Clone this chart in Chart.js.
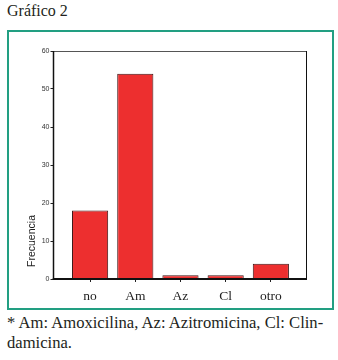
<!DOCTYPE html>
<html>
<head>
<meta charset="utf-8">
<script src="https://cdn.jsdelivr.net/npm/chart.js@4/dist/chart.umd.min.js"></script>
<style>
  html, body { margin: 0; padding: 0; background: #fff; }
  #page { position: relative; width: 338px; height: 360px; overflow: hidden; background: #fff; }
  .serif { font-family: "Liberation Serif", "Times New Roman", "DejaVu Serif", serif; }
  #title { position: absolute; left: 7px; top: 2px; font-size: 16px; color: #231f20; white-space: nowrap; }
  #box { position: absolute; left: 7px; top: 30px; width: 323px; height: 276px; border: 2px solid #229f82; }
  #wrap { position: absolute; left: 9px; top: 32px; width: 323px; height: 276px; }
  #note { position: absolute; left: 7px; top: 313px; font-size: 16.6px; line-height: 20px; color: #231f20; white-space: nowrap; }
</style>
</head>
<body>
<div id="page">
  <div id="title" class="serif">Gráfico 2</div>
  <div id="box"></div>
  <div id="wrap"><canvas id="c" width="323" height="276"></canvas></div>
  <div id="note" class="serif">* Am: Amoxicilina, Az: Azitromicina, Cl: Clin-<br>damicina.</div>
</div>
<script>
const categories = ["no", "Am", "Az", "Cl", "otro"];
const frecuencia = [18, 54, 1, 1, 4];
const yTicks = [0, 10, 20, 30, 40, 50, 60];
const yAxisTitle = "Frecuencia";

const framePlugin = {
  id: 'frame',
  afterDraw(chart) {
    const { ctx, chartArea: a } = chart;
    ctx.save();
    ctx.lineWidth = 1;
    ctx.strokeStyle = '#555';
    ctx.beginPath();
    ctx.moveTo(a.left, a.top + 0.5);
    ctx.lineTo(a.right, a.top + 0.5);
    ctx.stroke();
    ctx.strokeStyle = '#111';
    ctx.beginPath();
    ctx.moveTo(a.right - 0.5, a.top);
    ctx.lineTo(a.right - 0.5, a.bottom);
    ctx.stroke();
    ctx.lineWidth = 1.5;
    ctx.beginPath();
    ctx.moveTo(a.left, a.top);
    ctx.lineTo(a.left, a.bottom);
    ctx.stroke();
    ctx.lineWidth = 2;
    ctx.beginPath();
    ctx.moveTo(a.left - 0.75, a.bottom);
    ctx.lineTo(a.right, a.bottom);
    ctx.stroke();
    ctx.translate(a.left - 21, a.bottom - 38);
    ctx.rotate(-Math.PI / 2);
    ctx.fillStyle = '#222';
    ctx.font = '10.5px "Liberation Sans", Arial, sans-serif';
    ctx.textAlign = 'center';
    ctx.textBaseline = 'middle';
    ctx.fillText(yAxisTitle, 0, 0);
    ctx.restore();
  }
};

new Chart(document.getElementById('c'), {
  type: 'bar',
  data: {
    datasets: [{
      data: frecuencia.map((v, i) => ({ x: i, y: v })),
      backgroundColor: '#ed2f2f',
      borderColor: '#3d1414',
      borderWidth: 1,
      borderSkipped: 'bottom',
      barPercentage: 0.8,
      categoryPercentage: 1
    }]
  },
  options: {
    responsive: false,
    animation: false,
    layout: { padding: { top: 19, right: 25, left: 0, bottom: 0 } },
    plugins: { legend: { display: false }, tooltip: { enabled: false } },
    scales: {
      x: {
        type: 'linear',
        offset: false,
        min: -0.81,
        max: 4.8,
        afterBuildTicks: s => { s.ticks = categories.map((_, i) => ({ value: i })); },
        afterFit: s => { s.height = 29; },
        grid: { display: true, offset: false, drawOnChartArea: false, drawTicks: true, tickLength: 3, color: '#222' },
        border: { display: false },
        ticks: {
          autoSkip: false,
          maxRotation: 0,
          padding: 6,
          color: '#222',
          font: { family: '"Liberation Serif", "Times New Roman", "DejaVu Serif", serif', size: 13.5 },
          callback: v => categories[v]
        }
      },
      y: {
        min: 0,
        max: 60,
        afterBuildTicks: s => { s.ticks = yTicks.map(v => ({ value: v })); },
        afterFit: s => { s.width = 44.5; },
        grid: { display: true, drawOnChartArea: false, drawTicks: true, tickLength: 3, color: '#222' },
        border: { display: false },
        ticks: {
          padding: 1,
          color: '#333',
          font: { family: '"Liberation Sans", Arial, sans-serif', size: 7 }
        }
      }
    }
  },
  plugins: [framePlugin]
});
</script>
</body>
</html>
